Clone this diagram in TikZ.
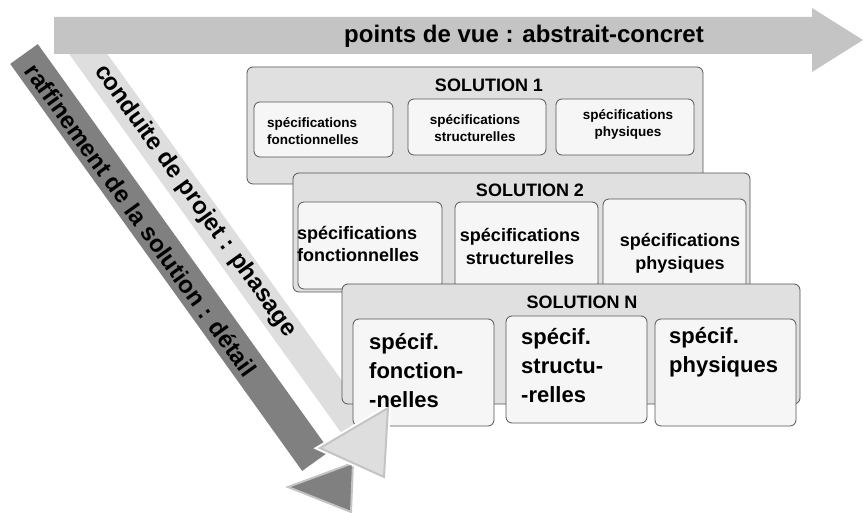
\documentclass[tikz,border=0pt]{standalone}
\usepackage{fontspec}
\setmainfont{Liberation Sans}
\usetikzlibrary{positioning}
\definecolor{panel}{RGB}{224,224,224}
\definecolor{card}{RGB}{246,246,246}
\definecolor{rim}{RGB}{85,85,85}
\definecolor{arrowtop}{RGB}{196,196,196}
\definecolor{arrowlight}{RGB}{222,222,222}
\definecolor{arrowdark}{RGB}{128,128,128}
\definecolor{headrim}{RGB}{196,196,196}
\begin{document}
\begin{tikzpicture}[x=1pt, y=-1pt,
    solbox/.style={draw=rim, fill=panel, line width=0.8pt, rounded corners=6pt, inner sep=0pt},
    specbox/.style={draw=rim, fill=card, line width=0.8pt, rounded corners=6pt, inner sep=0pt},
    soltitle/.style={font=\fontsize{18}{22}\selectfont\bfseries, inner sep=0pt},
    specsmall/.style={font=\fontsize{13.5}{17}\selectfont\bfseries, inner sep=0pt},
    specmid/.style={font=\fontsize{18}{22.5}\selectfont\bfseries, inner sep=0pt},
    specbig/.style={font=\fontsize{22}{29}\selectfont\bfseries, inner sep=0pt, align=left},
    bandtext/.style={font=\fontsize{24}{28}\selectfont\bfseries, inner sep=0pt, rotate=-54.3},
    lighthead/.style={fill=arrowlight, draw=headrim, line width=2pt, preaction={draw=white, line width=6pt}},
    darkhead/.style={fill=arrowdark, draw=headrim, line width=2pt, preaction={draw=white, line width=6pt}}
]
    \useasboundingbox (0,0) rectangle (863,513);

    % bandes diagonales
    \coordinate (dark0) at (24,54);
    \coordinate (dark1) at (316,461);
    \coordinate (light0) at (71,30);
    \coordinate (light1) at (354,424);
    \draw[arrowdark, line width=34pt] (dark0) -- (dark1);
    \draw[arrowlight, line width=31pt] (light0) -- (light1);

    % fleche horizontale
    \fill[arrowtop] (54,17) -- (812,17) -- (812,8) -- (863,40) -- (812,72) -- (812,54) -- (54,54) -- cycle;
    \node[name=vue, font=\fontsize{24}{28}\selectfont\bfseries, inner sep=0pt] at(524,36) {points de vue : abstrait-concret};

    \node[bandtext, name=phasage] at(195,201) {conduite de projet : phasage};
    \node[bandtext, name=detail] at(141,220) {raffinement de la solution : d\'etail};

    % solution 1
    \node[solbox, name=sol1, minimum width=456pt, minimum height=117pt] at(475,125.5) {};
    \node[soltitle, name=tsol1] at(489,85) {SOLUTION 1};
    \node[specbox, name=fct1, minimum width=139pt, minimum height=55pt] at(323.5,129.5) {};
    \node[specbox, name=str1, minimum width=138pt, minimum height=56pt] at(477,127) {};
    \node[specbox, name=phy1, minimum width=138pt, minimum height=56pt] at(625,127) {};
    \node[specsmall, align=left, anchor=west, name=tfct1] at(267,131.5) {spécifications\\fonctionnelles};
    \node[specsmall, align=center, name=tstr1] at(475,128.5) {spécifications\\structurelles};
    \node[specsmall, align=center, name=tphy1] at(628,124) {spécifications\\physiques};

    % solution 2
    \node[solbox, name=sol2, minimum width=457pt, minimum height=119pt] at(521.5,232.5) {};
    \node[soltitle, name=tsol2] at(530,190) {SOLUTION 2};
    \node[specbox, name=fct2, minimum width=144pt, minimum height=87pt] at(370,245.5) {};
    \node[specbox, name=str2, minimum width=143pt, minimum height=87pt] at(526.5,245.5) {};
    \node[specbox, name=phy2, minimum width=143pt, minimum height=91pt] at(674.5,244.5) {};
    \node[specmid, align=left, anchor=west, name=tfct2] at(297,244) {spécifications\\fonctionnelles};
    \node[specmid, align=center, name=tstr2] at(520,246.5) {spécifications\\structurelles};
    \node[specmid, align=center, name=tphy2] at(680,253.5) {spécifications\\physiques};

    % solution N
    \node[solbox, name=solN, minimum width=458pt, minimum height=120pt] at(571,344) {};
    \node[soltitle, name=tsolN] at(582,302) {SOLUTION N};
    \node[specbox, name=fctN, minimum width=141pt, minimum height=107pt] at(423.5,372.5) {};
    \node[specbox, name=strN, minimum width=141pt, minimum height=107pt] at(576.5,369.5) {};
    \node[specbox, name=phyN, minimum width=141pt, minimum height=107pt] at(725.5,372.5) {};

    % pointes des bandes
    \coordinate (dkl) at (288,487);
    \coordinate (dkt) at (353,463);
    \coordinate (dkb) at (351,512);
    \coordinate (ltl) at (320,448);
    \coordinate (ltt) at (388,408);
    \coordinate (ltb) at (384,477);
    \draw[darkhead] (dkl) -- (dkt) -- (dkb) -- cycle;
    \draw[lighthead] (ltl) -- (ltt) -- (ltb) -- cycle;

    \node[specbig, anchor=west, name=tfctN] at(369,371) {spécif.\\fonction-\\-nelles};
    \node[specbig, anchor=west, name=tstrN] at(521,366) {spécif.\\structu-\\-relles};
    \node[specbig, anchor=west, name=tphyN] at(669,352.5) {spécif.\\physiques};
\end{tikzpicture}
\end{document}
